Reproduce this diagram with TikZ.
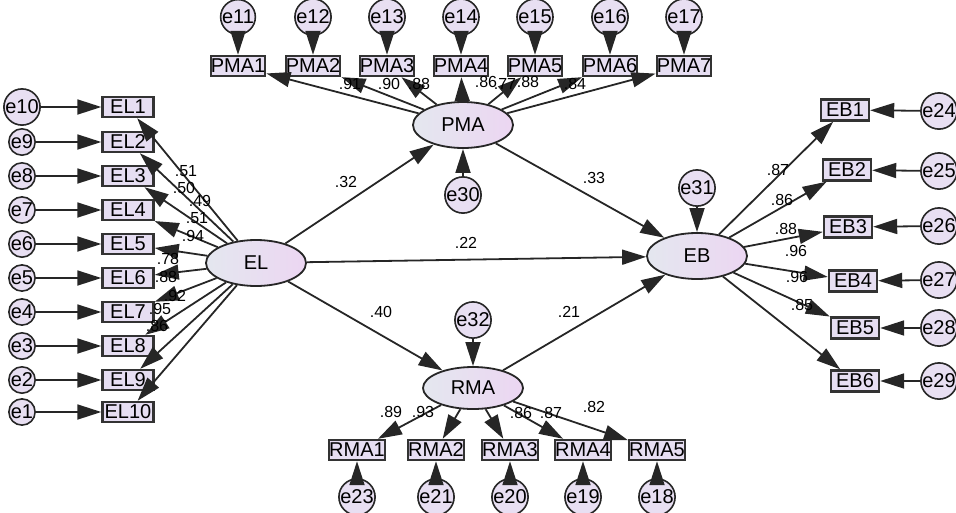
\documentclass[tikz,border=0pt]{standalone}
\usepackage{fontspec}
\setmainfont{Liberation Sans}
\usetikzlibrary{arrows.meta, shapes.geometric}

\definecolor{boxfill}{HTML}{E6DEF2}
\definecolor{latleft}{HTML}{E4E7EF}
\definecolor{latright}{HTML}{ECD6F2}
\definecolor{errfill}{HTML}{E8DFF2}

\tikzset{
  obsbox/.style={draw=black!80, line width=2.4pt, fill=boxfill, minimum width=51pt,
    minimum height=20pt, inner sep=0pt, font=\fontsize{20}{20}\selectfont},
  latent/.style={ellipse, draw=black!85, line width=1.8pt, left color=latleft,
    right color=latright, minimum width=100pt, minimum height=46pt, inner sep=0pt,
    font=\fontsize{20}{20}\selectfont},
  errnode/.style={circle, draw=black!85, line width=1.6pt, fill=errfill, minimum size=22pt,
    inner sep=0pt, font=\fontsize{20}{20}\selectfont},
  bigerr/.style={errnode, minimum size=30pt},
  sempath/.style={-{Triangle[length=24pt 0 0,width=15pt 0 0]}, line width=1.8pt, black!85},
  coef/.style={font=\fontsize{16}{16}\selectfont, inner sep=0pt}
}

\begin{document}
\begin{tikzpicture}[x=1pt, y=-1pt]
  \useasboundingbox (0,0) rectangle (956,512);

  % Latent variables
  \node[latent] (EL) at (256,263) {EL};
  \node[latent] (PMA) at (463,125) {PMA};
  \node[latent, minimum height=42pt] (RMA) at (473,388) {RMA};
  \node[latent] (EB) at (697,256) {EB};

  % Disturbances
  \node[bigerr] (e30) at (463,195) {e30};
  \node[bigerr] (e31) at (697,188) {e31};
  \node[bigerr] (e32) at (473,320) {e32};
  \draw[sempath] (e30) -- (PMA);
  \draw[sempath] (e31) -- (EB);
  \draw[sempath] (e32) -- (RMA);

  % Structural paths
  \draw[sempath] (EL) -- (PMA);
  \draw[sempath] (EL) -- (EB);
  \draw[sempath] (EL) -- (RMA);
  \draw[sempath] (PMA) -- (EB);
  \draw[sempath] (RMA) -- (EB);
  \node[coef] at (346,182) {.32};
  \node[coef] at (466,243) {.22};
  \node[coef] at (381,312) {.40};
  \node[coef] at (594,178) {.33};
  \node[coef] at (569,312) {.21};

  % EL indicators
  \node[obsbox] (EL1) at (128,107) {EL1};
  \node[obsbox] (EL2) at (128,142) {EL2};
  \node[obsbox] (EL3) at (128,176) {EL3};
  \node[obsbox] (EL4) at (128,210) {EL4};
  \node[obsbox] (EL5) at (128,244) {EL5};
  \node[obsbox] (EL6) at (128,278) {EL6};
  \node[obsbox] (EL7) at (128,312) {EL7};
  \node[obsbox] (EL8) at (128,346) {EL8};
  \node[obsbox] (EL9) at (128,380) {EL9};
  \node[obsbox] (EL10) at (128,412) {EL10};
  \node[errnode] (e10) at (22,107) {e10};
  \node[errnode] (e9) at (22,142) {e9};
  \node[errnode] (e8) at (22,176) {e8};
  \node[errnode] (e7) at (22,210) {e7};
  \node[errnode] (e6) at (22,244) {e6};
  \node[errnode] (e5) at (22,278) {e5};
  \node[errnode] (e4) at (22,312) {e4};
  \node[errnode] (e3) at (22,346) {e3};
  \node[errnode] (e2) at (22,380) {e2};
  \node[errnode] (e1) at (22,412) {e1};
  \draw[sempath] (e10) -- (EL1);
  \draw[sempath] (e9) -- (EL2);
  \draw[sempath] (e8) -- (EL3);
  \draw[sempath] (e7) -- (EL4);
  \draw[sempath] (e6) -- (EL5);
  \draw[sempath] (e5) -- (EL6);
  \draw[sempath] (e4) -- (EL7);
  \draw[sempath] (e3) -- (EL8);
  \draw[sempath] (e2) -- (EL9);
  \draw[sempath] (e1) -- (EL10);
  \draw[sempath] (EL) -- (EL1);
  \draw[sempath] (EL) -- (EL2);
  \draw[sempath] (EL) -- (EL3);
  \draw[sempath] (EL) -- (EL4);
  \draw[sempath] (EL) -- (EL5);
  \draw[sempath] (EL) -- (EL6);
  \draw[sempath] (EL) -- (EL7);
  \draw[sempath] (EL) -- (EL8);
  \draw[sempath] (EL) -- (EL9);
  \draw[sempath] (EL) -- (EL10);
  \node[coef] at (186,171) {.51};
  \node[coef] at (184,188) {.50};
  \node[coef] at (200,201) {.49};
  \node[coef] at (197,218) {.51};
  \node[coef] at (193,236) {.94};
  \node[coef] at (168,259) {.78};
  \node[coef] at (166,277) {.88};
  \node[coef] at (175,296) {.92};
  \node[coef] at (160,309) {.95};
  \node[coef] at (157,326) {.86};

  % PMA indicators
  \node[obsbox] (PMA1) at (238,66) {PMA1};
  \node[obsbox] (PMA2) at (313,66) {PMA2};
  \node[obsbox] (PMA3) at (387,66) {PMA3};
  \node[obsbox] (PMA4) at (461,66) {PMA4};
  \node[obsbox] (PMA5) at (535,66) {PMA5};
  \node[obsbox] (PMA6) at (610,66) {PMA6};
  \node[obsbox] (PMA7) at (684,66) {PMA7};
  \node[errnode] (e11) at (238,17) {e11};
  \node[errnode] (e12) at (313,17) {e12};
  \node[errnode] (e13) at (387,17) {e13};
  \node[errnode] (e14) at (461,17) {e14};
  \node[errnode] (e15) at (535,17) {e15};
  \node[errnode] (e16) at (610,17) {e16};
  \node[errnode] (e17) at (684,17) {e17};
  \draw[sempath] (e11) -- (PMA1);
  \draw[sempath] (e12) -- (PMA2);
  \draw[sempath] (e13) -- (PMA3);
  \draw[sempath] (e14) -- (PMA4);
  \draw[sempath] (e15) -- (PMA5);
  \draw[sempath] (e16) -- (PMA6);
  \draw[sempath] (e17) -- (PMA7);
  \draw[sempath] (PMA) -- (PMA1);
  \draw[sempath] (PMA) -- (PMA2);
  \draw[sempath] (PMA) -- (PMA3);
  \draw[sempath] (PMA) -- (PMA4);
  \draw[sempath] (PMA) -- (PMA5);
  \draw[sempath] (PMA) -- (PMA6);
  \draw[sempath] (PMA) -- (PMA7);
  \node[coef] at (350,84) {.91};
  \node[coef] at (389,84) {.90};
  \node[coef] at (419,84) {.88};
  \node[coef] at (486,82) {.86};
  \node[coef] at (505,84) {.77};
  \node[coef] at (528,82) {.88};
  \node[coef] at (575,84) {.84};

  % RMA indicators
  \node[obsbox] (RMA1) at (357,450) {RMA1};
  \node[obsbox] (RMA2) at (436,450) {RMA2};
  \node[obsbox] (RMA3) at (510,450) {RMA3};
  \node[obsbox] (RMA4) at (583,450) {RMA4};
  \node[obsbox] (RMA5) at (657,450) {RMA5};
  \node[errnode] (e23) at (357,497) {e23};
  \node[errnode] (e21) at (436,497) {e21};
  \node[errnode] (e20) at (510,497) {e20};
  \node[errnode] (e19) at (583,497) {e19};
  \node[errnode] (e18) at (657,497) {e18};
  \draw[sempath] (e23) -- (RMA1);
  \draw[sempath] (e21) -- (RMA2);
  \draw[sempath] (e20) -- (RMA3);
  \draw[sempath] (e19) -- (RMA4);
  \draw[sempath] (e18) -- (RMA5);
  \draw[sempath] (RMA) -- (RMA1);
  \draw[sempath] (RMA) -- (RMA2);
  \draw[sempath] (RMA) -- (RMA3);
  \draw[sempath] (RMA) -- (RMA4);
  \draw[sempath] (RMA) -- (RMA5);
  \node[coef] at (391,412) {.89};
  \node[coef] at (423,412) {.93};
  \node[coef] at (521,413) {.86};
  \node[coef] at (551,413) {.87};
  \node[coef] at (594,407) {.82};

  % EB indicators
  \node[obsbox, minimum width=48pt, minimum height=21pt] (EB1) at (845,110) {EB1};
  \node[obsbox, minimum width=48pt, minimum height=21pt] (EB2) at (847,170) {EB2};
  \node[obsbox, minimum width=48pt, minimum height=21pt] (EB3) at (848,227) {EB3};
  \node[obsbox, minimum width=48pt, minimum height=21pt] (EB4) at (853,281) {EB4};
  \node[obsbox, minimum width=48pt, minimum height=21pt] (EB5) at (855,328) {EB5};
  \node[obsbox, minimum width=48pt, minimum height=21pt] (EB6) at (855,381) {EB6};
  \node[errnode] (e24) at (939,111) {e24};
  \node[errnode] (e25) at (939,171) {e25};
  \node[errnode] (e26) at (939,226) {e26};
  \node[errnode] (e27) at (939,280) {e27};
  \node[errnode] (e28) at (939,328) {e28};
  \node[errnode] (e29) at (939,381) {e29};
  \draw[sempath] (e24) -- (EB1);
  \draw[sempath] (e25) -- (EB2);
  \draw[sempath] (e26) -- (EB3);
  \draw[sempath] (e27) -- (EB4);
  \draw[sempath] (e28) -- (EB5);
  \draw[sempath] (e29) -- (EB6);
  \draw[sempath] (EB) -- (EB1);
  \draw[sempath] (EB) -- (EB2);
  \draw[sempath] (EB) -- (EB3);
  \draw[sempath] (EB) -- (EB4);
  \draw[sempath] (EB) -- (EB5);
  \draw[sempath] (EB) -- (EB6);
  \node[coef] at (778,170) {.87};
  \node[coef] at (782,200) {.86};
  \node[coef] at (786,229) {.88};
  \node[coef] at (796,251) {.96};
  \node[coef] at (797,277) {.96};
  \node[coef] at (802,305) {.85};
\end{tikzpicture}
\end{document}
